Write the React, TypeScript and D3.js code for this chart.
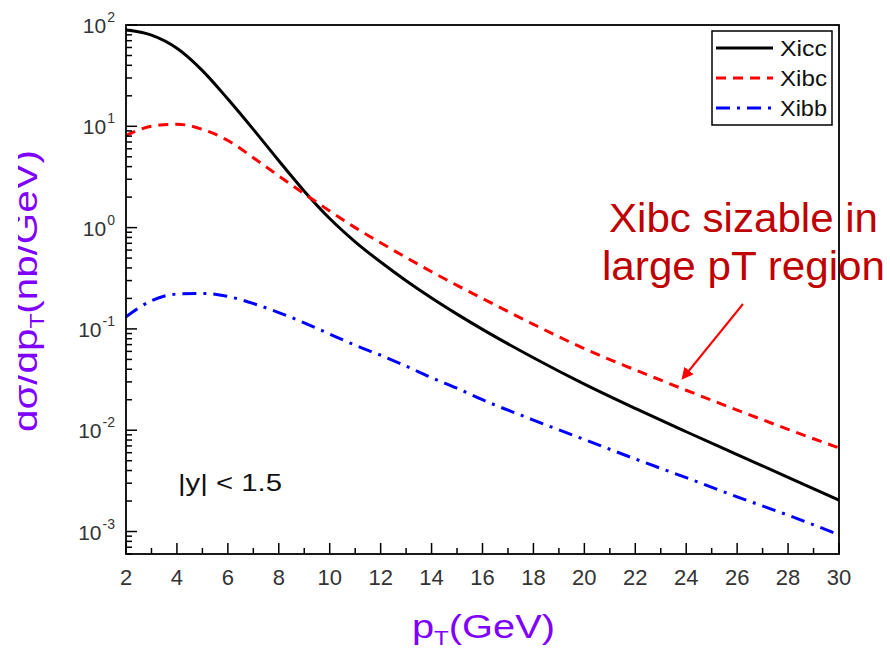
import React from 'react'
import * as d3 from 'd3'

// pT points (GeV)
const ptValues = [2, 3, 4, 5, 6, 7, 8, 9, 10, 11, 12, 13, 14, 15, 16, 18, 20, 22, 24, 26, 28, 30]

// dσ/dpT (nb/GeV)
const xiccValues = [89.1, 79.4, 58.9, 35.5, 18.6, 9.33, 4.57, 2.29, 1.23, 0.724, 0.457, 0.299, 0.202, 0.14, 0.0989, 0.0519, 0.0285, 0.0164, 0.00966, 0.00575, 0.00343, 0.00204]
const xibcValues = [8.13, 10.0, 10.5, 9.33, 7.24, 4.9, 3.24, 2.16, 1.46, 1.0, 0.708, 0.507, 0.367, 0.269, 0.2, 0.111, 0.0638, 0.0394, 0.0248, 0.0158, 0.0102, 0.00668]
const xibbValues = [0.132, 0.19, 0.221, 0.224, 0.209, 0.178, 0.145, 0.115, 0.089, 0.069, 0.055, 0.043, 0.033, 0.026, 0.02, 0.0126, 0.0081, 0.0052, 0.0034, 0.0022, 0.00145, 0.00093]

const seriesNames = ['Xicc', 'Xibc', 'Xibb']
const seriesColors = ['#000000', '#ff0000', '#0000ff']
const seriesDash = ['none', '10 7', '14 7 3 7']

const xTickLabels = [2, 4, 6, 8, 10, 12, 14, 16, 18, 20, 22, 24, 26, 28, 30]
const yDecades = [-3, -2, -1, 0, 1, 2]

const W = 890
const H = 653
const left = 126
const right = 839
const top = 25
const bottom = 554

const fontFamily = '"Liberation Sans", Arial, sans-serif'
const purple = '#8000ff'

export default function App () {
  const x = d3.scaleLinear().domain([2, 30]).range([left, right])
  const y = d3.scaleLog().domain([6e-4, 100]).range([bottom, top])

  const allSeries = [xiccValues, xibcValues, xibbValues]

  const line = d3.line<[number, number]>()
    .x(d => x(d[0]))
    .y(d => y(d[1]))
    .curve(d3.curveMonotoneX)

  // minor ticks on the log axis
  const yMinor: number[] = []
  yDecades.concat([-4]).forEach(e => {
    for (let m = 2; m <= 9; m++) {
      const v = m * Math.pow(10, e)
      if (v >= 6e-4 && v <= 100) yMinor.push(v)
    }
  })
  const xMinor = d3.range(3, 30, 2)

  return (
    <svg width={W} height={H} style={{ position: 'absolute', left: 0, top: 0, background: '#fff' }}>
      <defs>
        <clipPath id="plot-clip">
          <rect x={left} y={top} width={right - left} height={bottom - top} />
        </clipPath>
        <clipPath id="ylab-clip">
          <rect x={18} y={0} width={60} height={H} />
        </clipPath>
        <marker id="arrow" viewBox="0 0 10 10" refX="8" refY="5" markerWidth="6" markerHeight="6" orient="auto">
          <path d="M0,0 L10,5 L0,10 z" fill="#ff0000" />
        </marker>
      </defs>

      {/* curves */}
      <g clipPath="url(#plot-clip)">
        {allSeries.map((vals, i) => (
          <path
            key={seriesNames[i]}
            d={line(ptValues.map((p, j) => [p, vals[j]] as [number, number])) || ''}
            fill="none"
            stroke={seriesColors[i]}
            strokeWidth={3}
            strokeDasharray={seriesDash[i]}
          />
        ))}
      </g>

      {/* frame */}
      <rect x={left} y={top} width={right - left} height={bottom - top} fill="none" stroke="#000" strokeWidth={1.8} />

      {/* y axis ticks */}
      <g stroke="#000" strokeWidth={1.5}>
        {yDecades.map(e => (
          <line key={'M' + e} x1={left} x2={left + 11} y1={y(Math.pow(10, e))} y2={y(Math.pow(10, e))} />
        ))}
        {yMinor.map((v, i) => (
          <line key={'m' + i} x1={left} x2={left + 6} y1={y(v)} y2={y(v)} />
        ))}
      </g>
      <g fontFamily={fontFamily} fontSize={21} fill="#333">
        {yDecades.map(e => (
          <text key={e} x={left - 11} y={y(Math.pow(10, e)) + 8} textAnchor="end">
            10
            <tspan fontSize={14} dy={-11} dx={1}>{e}</tspan>
          </text>
        ))}
      </g>

      {/* x axis ticks */}
      <g stroke="#000" strokeWidth={1.5}>
        {xTickLabels.map(t => (
          <line key={'M' + t} x1={x(t)} x2={x(t)} y1={bottom} y2={bottom - 11} />
        ))}
        {xMinor.map(t => (
          <line key={'m' + t} x1={x(t)} x2={x(t)} y1={bottom} y2={bottom - 6} />
        ))}
      </g>
      <g fontFamily={fontFamily} fontSize={22} fill="#333" textAnchor="middle">
        {xTickLabels.map(t => (
          <text key={t} x={x(t)} y={585}>{t}</text>
        ))}
      </g>

      {/* axis titles */}
      <text x={412} y={638} fontFamily={fontFamily} fontSize={33} fill={purple} textLength={143} lengthAdjust="spacingAndGlyphs">
        p<tspan fontSize={20} dy={7}>T</tspan><tspan dy={-7}>(GeV)</tspan>
      </text>
      <g clipPath="url(#ylab-clip)">
        <text
          transform="translate(37,432) rotate(-90)"
          fontFamily={fontFamily}
          fontSize={33}
          fill={purple}
          textLength={282}
          lengthAdjust="spacingAndGlyphs"
        >
          dσ/dp<tspan fontSize={20} dy={7}>T</tspan><tspan dy={-7}>(nb/GeV)</tspan>
        </text>
      </g>

      {/* legend */}
      <rect x={712} y={31} width={120} height={94} fill="#fff" stroke="#000" strokeWidth={1.5} />
      {seriesNames.map((n, i) => (
        <g key={n}>
          <line x1={716} x2={773} y1={48 + i * 30} y2={48 + i * 30} stroke={seriesColors[i]} strokeWidth={3} strokeDasharray={seriesDash[i]} />
          <text x={780} y={56 + i * 30} fontFamily={fontFamily} fontSize={22} fill="#111" textLength={47} lengthAdjust="spacingAndGlyphs">{n}</text>
        </g>
      ))}

      {/* rapidity cut */}
      <text x={178} y={491} fontFamily={fontFamily} fontSize={24} fill="#111" textLength={104} lengthAdjust="spacingAndGlyphs">|y| &lt; 1.5</text>

      {/* annotation */}
      <g fontFamily={fontFamily} fontSize={40} fill="#c00000">
        <text x={609} y={232} textLength={269} lengthAdjust="spacingAndGlyphs">Xibc sizable in</text>
        <text x={602} y={280} textLength={283} lengthAdjust="spacingAndGlyphs">large pT region</text>
      </g>
      <line x1={743} y1={304} x2={683} y2={378} stroke="#ff0000" strokeWidth={2} markerEnd="url(#arrow)" />
    </svg>
  )
}
